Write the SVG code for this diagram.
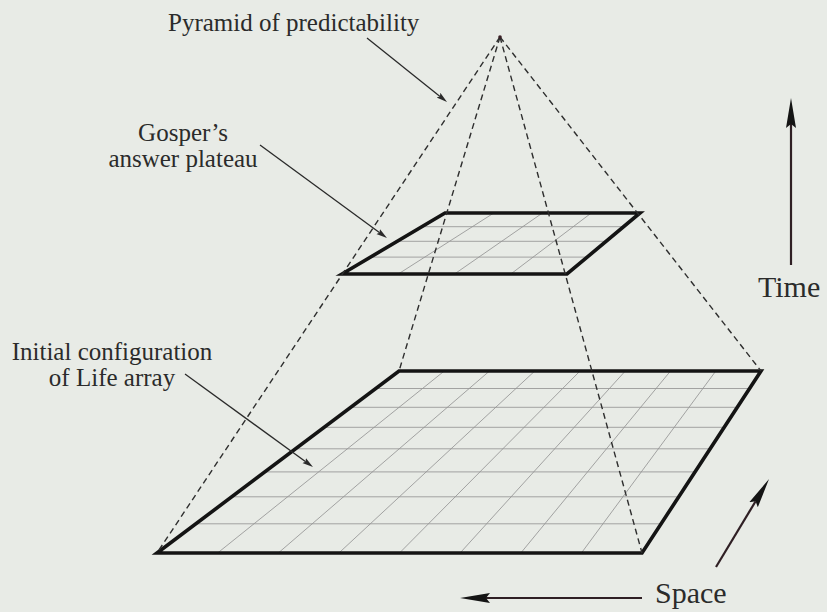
<svg xmlns="http://www.w3.org/2000/svg" width="827" height="612" viewBox="0 0 827 612">
<style>
.lbl{font-family:"Liberation Serif","Times New Roman",serif;fill:#2b2b2b;}
.small{font-size:25px;}
.big{font-size:30px;}
.grid{stroke:#959595;stroke-width:0.85;fill:none;}
.edge{stroke:#141414;stroke-width:3.6;fill:none;stroke-linejoin:miter;}
.dash{stroke:#2e2e2e;stroke-width:1.4;stroke-dasharray:6 4;fill:none;}
.leader{stroke:#2a2a2a;stroke-width:1.3;fill:none;}
.axis{stroke:#2f1f24;stroke-width:2.2;fill:none;}
</style>
<defs>
<marker id="bighead" markerUnits="userSpaceOnUse" viewBox="0 -6 31 12" refX="4" refY="0" markerWidth="31" markerHeight="12" orient="auto">
<path d="M0,-5 L30,0 L0,5 L4,0 Z" fill="#141414"/>
</marker>
<marker id="smallhead" markerUnits="userSpaceOnUse" viewBox="0 -4 12 8" refX="2" refY="0" markerWidth="12" markerHeight="8" orient="auto">
<path d="M0,-3 L11,0 L0,3 L2,0 Z" fill="#2a2a2a"/>
</marker>
</defs>
<rect x="0" y="0" width="827" height="612" fill="#e8ebe6"/>

<g id="array">
<g class="grid">
<line x1="375.7" y1="388.5" x2="749.5" y2="388.5"/>
<line x1="350.8" y1="407.3" x2="737.3" y2="407.3"/>
<line x1="324.1" y1="427.3" x2="724.2" y2="427.3"/>
<line x1="295.6" y1="448.8" x2="710.1" y2="448.8"/>
<line x1="264.8" y1="471.9" x2="695.0" y2="471.9"/>
<line x1="231.7" y1="496.8" x2="678.7" y2="496.8"/>
<line x1="195.9" y1="523.8" x2="661.1" y2="523.8"/>
<line x1="444.3" y1="371" x2="217.6" y2="553"/>
<line x1="489.5" y1="371" x2="278.3" y2="553"/>
<line x1="534.8" y1="371" x2="338.9" y2="553"/>
<line x1="580.0" y1="371" x2="399.5" y2="553"/>
<line x1="625.3" y1="371" x2="460.1" y2="553"/>
<line x1="670.5" y1="371" x2="520.8" y2="553"/>
<line x1="715.8" y1="371" x2="581.4" y2="553"/>
</g>
<polygon class="edge" points="157,553 399,371 761,371 642,553"/>
</g>

<g id="plateau">
<g class="grid">
<line x1="421.9" y1="226.7" x2="623.6" y2="226.7"/>
<line x1="397.2" y1="241.3" x2="606.1" y2="241.3"/>
<line x1="370.6" y1="257.1" x2="587.3" y2="257.1"/>
<line x1="493.8" y1="213" x2="398.3" y2="274"/>
<line x1="542.5" y1="213" x2="454.5" y2="274"/>
<line x1="591.3" y1="213" x2="510.8" y2="274"/>
</g>
<polygon class="edge" points="342,274 445,213 640,213 567,274"/>
</g>

<g id="pyramid">
<line class="dash" x1="500" y1="37" x2="157" y2="553"/>
<line class="dash" x1="500" y1="37" x2="399" y2="371"/>
<line class="dash" x1="500" y1="37" x2="761" y2="371"/>
<line class="dash" x1="500" y1="37" x2="642" y2="553"/>
<circle cx="500" cy="37" r="1.8" fill="#3a1f26"/>
</g>

<g id="label-pyramid">
<text class="lbl small" x="168" y="31">Pyramid of predictability</text>
</g>
<g id="label-gosper">
<text class="lbl small" x="183" y="141" text-anchor="middle">Gosper’s</text>
<text class="lbl small" x="183" y="167" text-anchor="middle">answer plateau</text>
</g>
<g id="label-initial">
<text class="lbl small" x="112" y="360" text-anchor="middle">Initial configuration</text>
<text class="lbl small" x="112" y="386" text-anchor="middle">of Life array</text>
</g>
<g id="axis-time">
<text class="lbl big" x="758" y="297">Time</text>
</g>
<g id="axis-space">
<text class="lbl big" x="655" y="603">Space</text>
</g>

<g id="connectors">
<line class="leader" x1="367" y1="38" x2="440" y2="96.4" marker-end="url(#smallhead)"/>
<line class="leader" x1="260" y1="145" x2="379.7" y2="232.7" marker-end="url(#smallhead)"/>
<line class="leader" x1="185" y1="374" x2="305.7" y2="461.7" marker-end="url(#smallhead)"/>
<line class="axis" x1="791" y1="265" x2="791" y2="124" marker-end="url(#bighead)"/>
<line class="axis" x1="642" y1="598" x2="486" y2="598" marker-end="url(#bighead)"/>
<line class="axis" x1="716" y1="567" x2="755.6" y2="501.3" marker-end="url(#bighead)"/>
</g>
</svg>
